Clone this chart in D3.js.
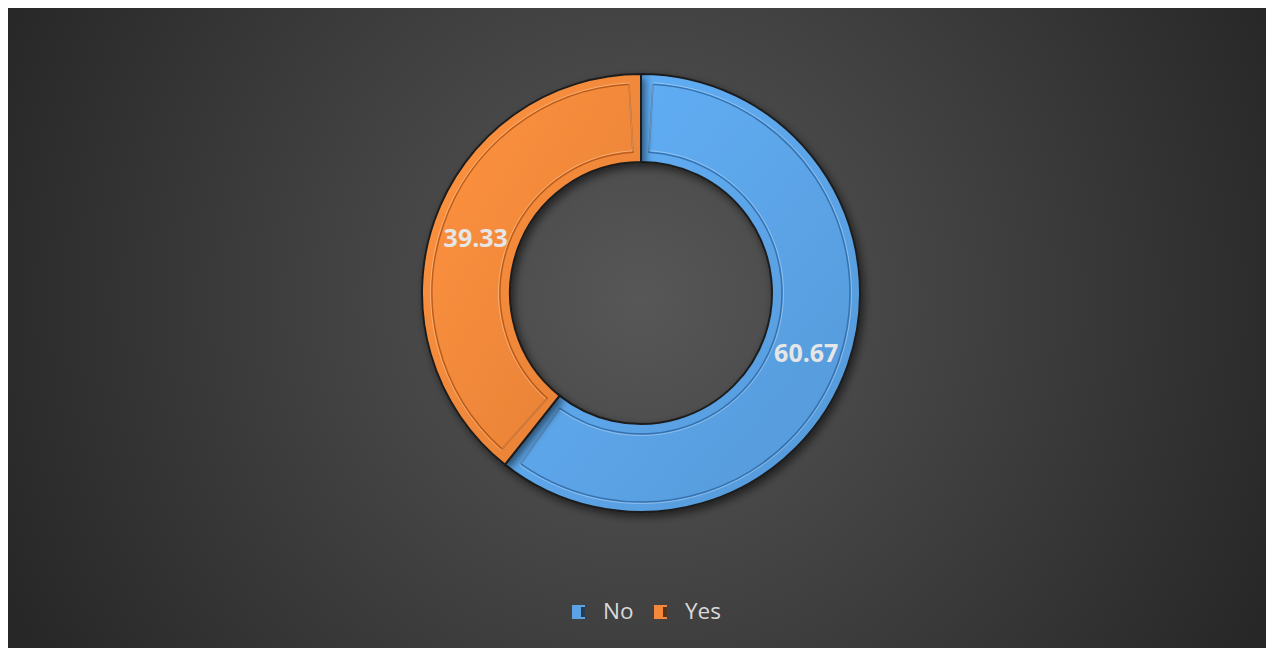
<!DOCTYPE html>
<html>
  <head>
    <script src="https://d3js.org/d3.v7.min.js"></script>
    <style>
      body { margin: 0; background: #ffffff; }
      svg { display: block; }
    </style>
  </head>
  <body>
    <script>
      // chart data
      var categories = ["No", "Yes"];
      var values = [60.67, 39.33];
      var colors = ["#5ba3e6", "#f5873a"];
      var darkColors = ["#2f6aa6", "#b25513"];

      var W = 1266, H = 648;
      var cx = 641, cy = 293;
      var outerR = 219, innerR = 131;

      var svg = d3.select("body").append("svg")
          .attr("width", W)
          .attr("height", H);

      var defs = svg.append("defs");

      // background radial gradient
      var bg = defs.append("radialGradient")
          .attr("id", "bg")
          .attr("gradientUnits", "userSpaceOnUse")
          .attr("cx", 640).attr("cy", 300).attr("r", 700);
      bg.append("stop").attr("offset", "0%").attr("stop-color", "#575757");
      bg.append("stop").attr("offset", "100%").attr("stop-color", "#272727");

      svg.append("rect")
          .attr("x", 8).attr("y", 8)
          .attr("width", W - 8).attr("height", H - 8)
          .attr("fill", "url(#bg)");

      // drop shadow
      var f = defs.append("filter").attr("id", "shadow")
          .attr("x", "-20%").attr("y", "-20%").attr("width", "140%").attr("height", "140%");
      f.append("feDropShadow")
          .attr("dx", 3).attr("dy", 4).attr("stdDeviation", 4)
          .attr("flood-color", "#000").attr("flood-opacity", 0.55);

      // slice gradients (slightly lighter at top-left)
      colors.forEach(function(c, i) {
        var g = defs.append("linearGradient")
            .attr("id", "grad" + i)
            .attr("x1", "0%").attr("y1", "0%").attr("x2", "100%").attr("y2", "100%");
        g.append("stop").attr("offset", "0%").attr("stop-color", d3.color(c).brighter(0.25));
        g.append("stop").attr("offset", "100%").attr("stop-color", d3.color(c).darker(0.2));
      });

      var pie = d3.pie().sort(null).value(function(d) { return d; });
      var arcs = pie(values);

      var arc = d3.arc().innerRadius(innerR).outerRadius(outerR);
      var insetArc = d3.arc().innerRadius(innerR + 10).outerRadius(outerR - 10);
      var labelArc = d3.arc().innerRadius(innerR).outerRadius(outerR);

      var g = svg.append("g")
          .attr("transform", "translate(" + cx + "," + cy + ")");

      var slices = g.selectAll(".slice")
          .data(arcs)
        .enter().append("g")
          .attr("class", "slice");

      slices.append("path")
          .attr("d", arc)
          .attr("fill", function(d, i) { return "url(#grad" + i + ")"; })
          .attr("stroke", "#1e1e1e")
          .attr("stroke-width", 2)
          .attr("filter", "url(#shadow)");

      // bevel: inner outline with highlight
      slices.append("path")
          .attr("d", function(d) {
            var pad = 10 / ((innerR + outerR) / 2);
            return insetArc({startAngle: d.startAngle + pad, endAngle: d.endAngle - pad});
          })
          .attr("fill", "none")
          .attr("stroke", function(d, i) { return darkColors[i]; })
          .attr("stroke-opacity", 0.85)
          .attr("stroke-width", 1.5);

      slices.append("path")
          .attr("d", function(d) {
            var pad = 10 / ((innerR + outerR) / 2);
            return d3.arc().innerRadius(innerR + 11.5).outerRadius(outerR - 8.5)
              ({startAngle: d.startAngle + pad, endAngle: d.endAngle - pad});
          })
          .attr("fill", "none")
          .attr("stroke", "#ffffff")
          .attr("stroke-opacity", 0.3)
          .attr("stroke-width", 1);

      // data labels
      slices.append("text")
          .attr("transform", function(d) {
            var c = labelArc.centroid(d);
            return "translate(" + c[0] + "," + (c[1] + 5) + ")";
          })
          .attr("text-anchor", "middle")
          .attr("dominant-baseline", "middle")
          .style("font-family", "'Open Sans', sans-serif")
          .style("font-weight", "bold")
          .style("font-size", "25px")
          .style("fill", "#e6e6e6")
          .text(function(d) { return d3.format(".2f")(d.data); });

      // legend
      var legend = svg.append("g")
          .attr("transform", "translate(572,612)");

      var item = legend.selectAll(".item")
          .data(categories)
        .enter().append("g")
          .attr("class", "item")
          .attr("transform", function(d, i) { return "translate(" + (i * 82) + ",0)"; });

      item.append("rect")
          .attr("x", 0).attr("y", -7)
          .attr("width", 13).attr("height", 14)
          .attr("fill", function(d, i) { return colors[i]; });

      item.append("rect")
          .attr("x", 9).attr("y", -5)
          .attr("width", 4).attr("height", 10)
          .attr("fill", "#111")
          .attr("opacity", 0.7);

      item.append("text")
          .attr("x", 31).attr("y", 1)
          .attr("dominant-baseline", "middle")
          .style("font-family", "'Open Sans', sans-serif")
          .style("font-size", "22.5px")
          .style("fill", "#d9d9d9")
          .text(function(d) { return d; });
    </script>
  </body>
</html>
